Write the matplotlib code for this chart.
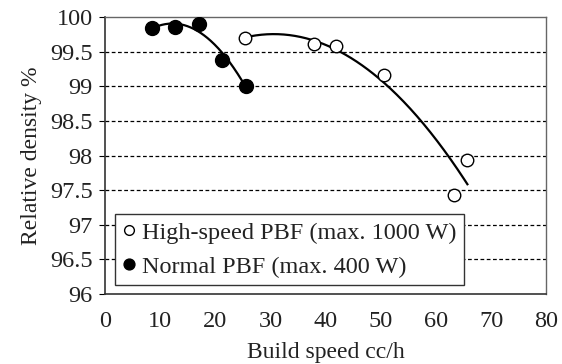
import matplotlib
matplotlib.use("Agg")
import matplotlib.pyplot as plt
import numpy as np

plt.rcParams['font.family'] = ['Liberation Serif', 'DejaVu Serif']

# datos
hs_speed = [25.3, 37.8, 41.8, 50.5, 63.2, 65.7]
hs_density = [99.70, 99.61, 99.58, 99.17, 97.43, 97.94]
nm_speed = [8.5, 12.7, 17.1, 21.2, 25.6]
nm_density = [99.84, 99.86, 99.90, 99.38, 99.01]

fig = plt.figure(figsize=(5.62, 3.64), dpi=100)
ax = fig.add_axes([0.187, 0.192, 0.785, 0.761])

# lineas de tendencia (polinomio de grado 2)
for xs, ys in [(hs_speed, hs_density), (nm_speed, nm_density)]:
    c = np.polyfit(xs, ys, 2)
    xx = np.linspace(min(xs), max(xs), 200)
    ax.plot(xx, np.polyval(c, xx), color='black', lw=1.6, zorder=3)

ax.plot(hs_speed, hs_density, 'o', ms=9, mfc='white', mec='black', mew=1.0,
        label='High-speed PBF (max. 1000 W)', zorder=4)
ax.plot(nm_speed, nm_density, 'o', ms=10, mfc='black', mec='black',
        label='Normal PBF (max. 400 W)', zorder=4)

ax.set_xlim(0, 80)
ax.set_ylim(96, 100)
ax.set_xticks(range(0, 81, 10))
ax.set_yticks(np.arange(96, 100.01, 0.5))
ax.set_yticklabels(['96', '96.5', '97', '97.5', '98', '98.5', '99', '99.5', '100'])
for y in np.arange(96.5, 99.6, 0.5):
    ax.axhline(y, color='black', lw=0.9, ls=(0, (3, 2)), zorder=1)

txt = '#222222'
ax.tick_params(axis='x', length=0, pad=12, labelsize=17.5, labelcolor=txt)
ax.tick_params(axis='y', length=4, width=0.8, labelsize=17.5, labelcolor=txt, pad=5)
for s in ['left', 'bottom']:
    ax.spines[s].set_color('#333333')
    ax.spines[s].set_linewidth(1.2)
for s in ['top', 'right']:
    ax.spines[s].set_color('#666666')
    ax.spines[s].set_linewidth(1.0)

ax.set_xlabel('Build speed cc/h', fontsize=17, labelpad=7, color=txt)
ax.set_ylabel('Relative density %', fontsize=17, labelpad=6, color=txt)

leg = ax.legend(loc='lower left', bbox_to_anchor=(0.023, 0.032), borderaxespad=0,
                fontsize=17.5, markerscale=0.78, handlelength=0.5,
                handletextpad=0.3, borderpad=0.3, labelspacing=0.5,
                fancybox=False, framealpha=1, edgecolor='#333333')
leg.get_frame().set_linewidth(1.0)
for t in leg.get_texts():
    t.set_color(txt)

plt.savefig('out.png', dpi=100)
